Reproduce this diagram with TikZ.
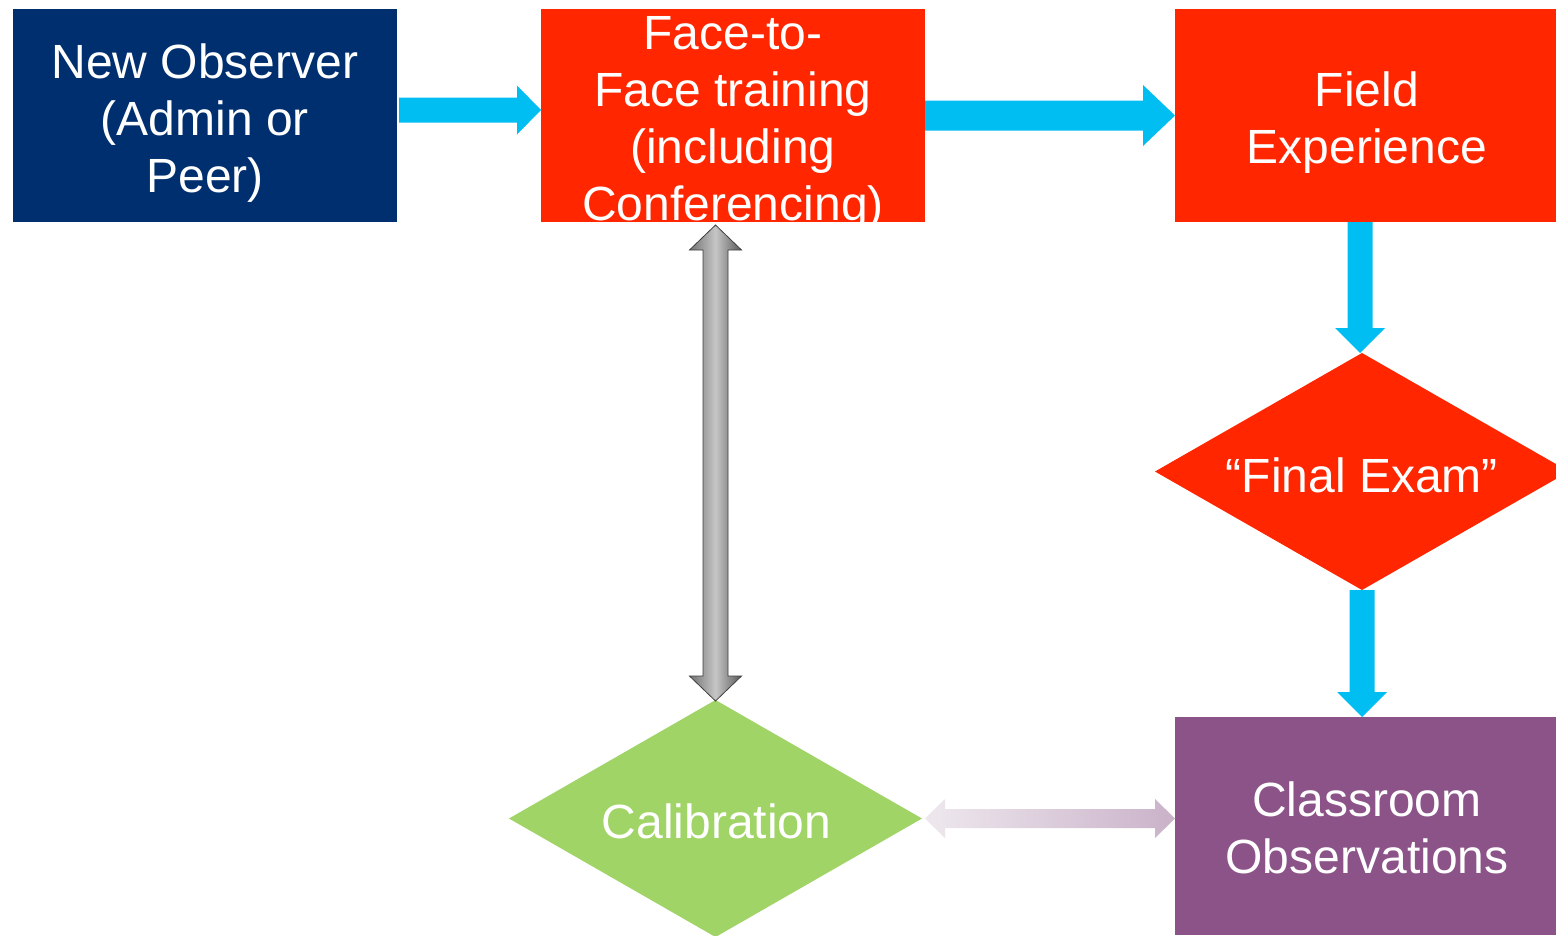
\documentclass[tikz,border=0pt]{standalone}
\usepackage{fontspec}
\setmainfont{Liberation Sans}
\usetikzlibrary{calc,shapes.geometric}
\definecolor{navy}{HTML}{002F6F}
\definecolor{fred}{HTML}{FF2600}
\definecolor{fblue}{HTML}{00BEF2}
\definecolor{fpurple}{HTML}{8C5389}
\definecolor{fgreen}{HTML}{A0D466}
\definecolor{plight}{HTML}{EEE8EE}
\definecolor{pdark}{HTML}{CAB2C9}
\begin{document}
\begin{tikzpicture}[x=1pt,y=-1pt,
  box/.style={rectangle, inner sep=0pt, outer sep=0pt},
  lbl/.style={inner sep=0pt, outer sep=0pt, text=white, align=center,
    font=\fontsize{48}{57}\selectfont},
  dia/.style={diamond, inner sep=0pt, outer sep=0pt, aspect=1.74},
  bluearrow/.style={fill=fblue, draw=none},
  grayarrow/.style={left color=gray!90!black, right color=gray!70!black, middle color=gray!45,
    draw=gray!50!black, line width=0.8pt},
  purplearrow/.style={left color=plight, right color=pdark, draw=none}]
\clip (0,0) rectangle (1556,935);
\fill[white] (0,0) rectangle (1556,935);

% shapes
\node[box, fill=navy, minimum width=384pt, minimum height=213pt] (obs) at (205,115.5) {};
\node[box, fill=fred, minimum width=384pt, minimum height=213pt] (f2f) at (733,115.5) {};
\node[box, fill=fred, minimum width=381pt, minimum height=213pt] (fe) at (1365.5,115.5) {};
\node[dia, fill=fred, minimum width=414pt, minimum height=237pt] (fx) at (1362,471.5) {};
\node[box, fill=fpurple, minimum width=381pt, minimum height=218pt] (cls) at (1365.5,826) {};
\node[dia, fill=fgreen, minimum width=413pt, minimum height=237pt] (cal) at (715.5,818.5) {};

% texts
\node[lbl] (obst) at ($(obs.center)+(0,8)$) {New Observer\\(Admin or\\Peer)};
\begin{scope}
  \clip (f2f.south west) rectangle (f2f.north east);
  \node[lbl] (f2ft) at ($(f2f.center)+(0,7.5)$) {Face-to-\\Face training\\(including\\Conferencing)};
\end{scope}
\node[lbl] (fet) at ($(fe.center)+(1.5,7)$) {Field\\Experience};
\node[lbl] (fxt) at ($(fx.center)+(0,3.5)$) {“Final Exam”};
\node[lbl] (clst) at ($(cls.center)+(1.5,2)$) {Classroom\\Observations};
\node[lbl] (calt) at ($(cal.center)+(1,3)$) {Calibration};

% blue arrow 1: obs -> f2f
\coordinate (a1) at ($(obs.east)+(2,-5.5)$);
\coordinate (b1) at ($(f2f.west)+(0,-5.5)$);
\path[bluearrow] ($(a1)+(0,-12.5)$) -- ($(b1)+(-24,-12.5)$) -- ++(0,-12) -- (b1)
  -- ++(-24,24.5) -- ++(0,-12) -- ($(a1)+(0,12.5)$) -- cycle;

% blue arrow 2: f2f -> fe
\coordinate (a2) at (f2f.east);
\coordinate (b2) at (fe.west);
\path[bluearrow] ($(a2)+(0,-15)$) -- ($(b2)+(-32,-15)$) -- ++(0,-15.5) -- (b2)
  -- ++(-32,30.5) -- ++(0,-15.5) -- ($(a2)+(0,15)$) -- cycle;

% blue arrow 3: fe -> fx
\coordinate (a3) at ($(fx.north |- fe.south)+(-2,0)$);
\coordinate (b3) at ($(fx.north)+(-2,0)$);
\path[bluearrow] ($(a3)+(-12.5,0)$) -- ($(b3)+(-12.5,-25)$) -- ++(-12.5,0) -- (b3)
  -- ++(25,-25) -- ++(-12.5,0) -- ($(a3)+(12.5,0)$) -- cycle;

% blue arrow 4: fx -> cls
\coordinate (a4) at (fx.south);
\coordinate (b4) at (fx.south |- cls.north);
\path[bluearrow] ($(a4)+(-12.5,0)$) -- ($(b4)+(-12.5,-25)$) -- ++(-12.5,0) -- (b4)
  -- ++(25,-25) -- ++(-12.5,0) -- ($(a4)+(12.5,0)$) -- cycle;

% gray double arrow: f2f <-> cal
\coordinate (a5) at ($(cal.north |- f2f.south)+(0,3)$);
\coordinate (b5) at ($(cal.north)+(0,1)$);
\path[grayarrow] (a5) -- ++(26,25) -- ++(-13.5,0) -- ($(b5)+(12.5,-25)$) -- ++(13.5,0)
  -- (b5) -- ++(-26,-25) -- ++(13.5,0) -- ($(a5)+(-12.5,25)$) -- ++(-13.5,0) -- cycle;

% purple double arrow: cal <-> cls
\coordinate (a6) at ($(cal.east)+(3,0)$);
\coordinate (b6) at (cal.east -| cls.west);
\path[purplearrow] (a6) -- ++(20,-19.5) -- ++(0,10) -- ($(b6)+(-20,-9.5)$) -- ++(0,-10)
  -- (b6) -- ++(-20,19.5) -- ++(0,-10) -- ($(a6)+(20,9.5)$) -- ++(0,10) -- cycle;
\end{tikzpicture}
\end{document}
